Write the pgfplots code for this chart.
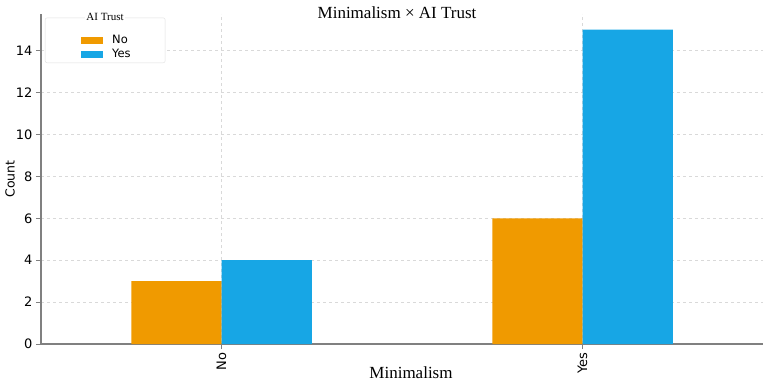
\documentclass[border=0pt]{standalone}
\usepackage{fontspec}
\setmainfont{Liberation Serif}
\newfontfamily\dejavu{DejaVu Sans}
\usepackage{pgfplots}
\pgfplotsset{compat=1.18}
\definecolor{barorange}{HTML}{F09A00}
\definecolor{barblue}{HTML}{17A6E5}
\definecolor{spine}{HTML}{808080}
\begin{document}
\begin{tikzpicture}
\useasboundingbox (0,0) rectangle (767pt,383pt);
\begin{axis}[
  at={(41pt,39pt)}, anchor=south west,
  scale only axis, width=722pt, height=330pt,
  xmin=-0.5, xmax=1.5, ymin=0, ymax=15.75,
  axis x line*=bottom, axis y line*=left,
  axis line style={spine, line width=1.2pt},
  xtick={0,1}, xticklabels={No,Yes},
  ytick={0,2,...,14},
  tick style={spine, line width=1pt},
  major tick length=5pt,
  tick align=outside,
  xmajorgrids, ymajorgrids,
  major grid style={gray!30, dashed, line width=0.6pt},
  /pgf/number format/assume math mode=true,
  ticklabel style={font=\dejavu\fontsize{13}{15}\selectfont},
  xticklabel style={rotate=90, anchor=east},
  xlabel={Minimalism},
  xlabel style={font=\fontsize{17}{20}\selectfont, at={(axis description cs:0.5,0)}, anchor=center, yshift=-29pt, xshift=9pt},
  ylabel={Count},
  ylabel style={font=\dejavu\fontsize{12.5}{15}\selectfont, at={(axis description cs:-0.0429,0.5)}, anchor=center},
  title={Minimalism × AI Trust},
  title style={font=\fontsize{17}{20}\selectfont, at={(axis description cs:0.5,1)}, anchor=center, yshift=-5pt, xshift=-5pt},
  legend style={at={(axis description cs:0.0055,0.989)}, anchor=north west,
    draw=gray!25, rounded corners=2pt, fill=white,
    inner xsep=8pt, inner ysep=1.5pt, row sep=0pt,
    nodes={minimum height=14pt, inner ysep=0pt, inner xsep=0pt, text width=45pt,
      font=\dejavu\fontsize{11.5}{13}\selectfont}},
  legend cell align=left,
]
\addlegendimage{empty legend}
\addlegendentry{}
\addplot[ybar, fill=barorange, draw=none, bar width=90.25pt, bar shift=-45.125pt,
  legend image code/.code={\fill[barorange, sharp corners] (28pt,-3.5pt) rectangle (50pt,3.5pt); \path (0pt,0pt) (59pt,0pt);}]
  coordinates {(0,3) (1,6)};
\addlegendentry{No}
\addplot[ybar, fill=barblue, draw=none, bar width=90.25pt, bar shift=45.125pt,
  legend image code/.code={\fill[barblue, sharp corners] (28pt,-3.5pt) rectangle (50pt,3.5pt); \path (0pt,0pt) (59pt,0pt);}]
  coordinates {(0,4) (1,15)};
\addlegendentry{Yes}
\end{axis}
\node[fill=white, inner sep=1pt, font=\fontsize{11}{13}\selectfont] at (105pt,366pt) {AI Trust};
\end{tikzpicture}
\end{document}
